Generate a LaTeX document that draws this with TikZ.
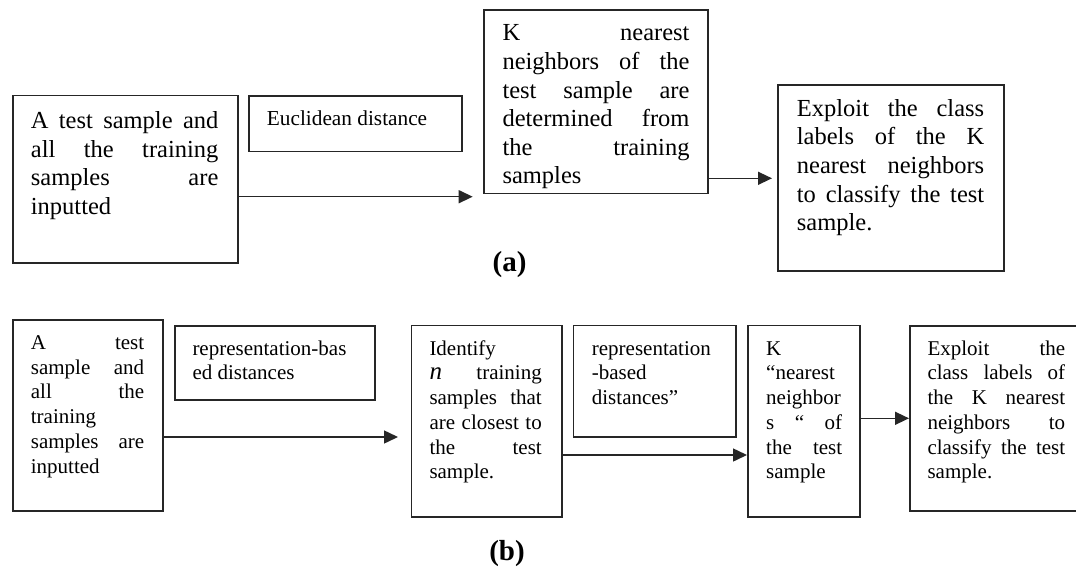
\documentclass[tikz,border=0pt]{standalone}
\usepackage{fontspec}
\setmainfont{Liberation Serif}
\usetikzlibrary{arrows.meta}
\tolerance=10000
\hbadness=10000
\hyphenpenalty=10000
\exhyphenpenalty=10000
\newcommand\st{\noindent\strut}
\tikzset{
  bx/.style={draw=black!85, line width=1.5pt, inner sep=0pt, anchor=north west, rectangle},
  tx/.style={inner sep=0pt, anchor=north west, align=justify},
  big/.style={font=\fontsize{24.5}{28.6}\selectfont},
  sml/.style={font=\fontsize{21}{24.7}\selectfont},
  arr/.style={line width=1.5pt, draw=black!85, -{Triangle[length=14pt,width=13pt]}},
  lab/.style={font=\fontsize{29}{33}\selectfont\bfseries, anchor=base, inner sep=0pt},
}
\begin{document}
\begin{tikzpicture}[x=1pt, y=-1pt]
\useasboundingbox (0,0) rectangle (1076,570);
% ---------- (a) ----------
\node[bx, minimum width=225pt, minimum height=167.3pt] (a1) at (12,94.7) {};
\node[tx, big, text width=187.5pt] (a1t) at (30.7,108.3)
  {\st A test sample and\linebreak all the training\linebreak samples are\linebreak inputted};
\node[bx, minimum width=212.7pt, minimum height=55.7pt] (eu) at (248.3,95) {};
\node[inner sep=0pt, anchor=base west, font=\fontsize{21.3}{25}\selectfont] (eut) at (266.7,125) {Euclidean distance};
\node[bx, minimum width=224pt, minimum height=183.4pt] (k1) at (483.3,9.3) {};
\node[tx, big, text width=187pt] (k1t) at (502.3,20.7)
  {\st K nearest\linebreak neighbors of the\linebreak test sample are\linebreak determined from\linebreak the training\linebreak samples};
\node[bx, minimum width=226pt, minimum height=186pt] (ex1) at (777.3,84) {};
\node[tx, big, text width=187.3pt] (ex1t) at (796.7,96)
  {\st Exploit the class\linebreak labels of the K\linebreak nearest neighbors\linebreak to classify the test\linebreak sample.};
\coordinate (e1) at (472.7,196.7);
\draw[arr] (a1.east |- e1) -- (e1);
\coordinate (e2) at (772,178.3);
\draw[arr] (k1.east |- e2) -- (e2);
\node[lab] (la) at (509.5,271.5) {(a)};
% ---------- (b) ----------
\node[bx, minimum width=150pt, minimum height=191pt] (b1) at (12,319) {};
\node[tx, sml, text width=113.3pt] (b1t) at (30.7,332.1)
  {\st A test\linebreak sample and\linebreak all the\linebreak training\linebreak samples are\linebreak inputted};
\node[bx, minimum width=200pt, minimum height=74pt] (r1) at (174,325) {};
\node[inner sep=0pt, anchor=north west, sml, align=left] (r1t) at (192.3,337.8)
  {\strut representation-bas\\ed distances};
\node[bx, minimum width=150.3pt, minimum height=191.3pt] (id) at (410.7,324.7) {};
\node[tx, sml, text width=112.3pt] (idt) at (429.3,337.8)
  {\st Identify\linebreak {\fontsize{25}{24.7}\selectfont\itshape n} training\linebreak samples that\linebreak are closest to\linebreak the test\linebreak sample.};
\node[bx, minimum width=162.3pt, minimum height=111.3pt] (r2) at (572.7,324.7) {};
\node[inner sep=0pt, anchor=north west, sml, align=left] (r2t) at (591.7,337.8)
  {\strut representation\\-based\\distances”};
\node[bx, minimum width=112.3pt, minimum height=191.3pt] (k2) at (747,324.7) {};
\node[tx, sml, text width=76pt] (k2t) at (766,337.8)
  {\st K\linebreak “nearest\linebreak neighbor\linebreak s “ of\linebreak the test\linebreak sample};
\node[bx, minimum width=180pt, minimum height=185pt] (ex2) at (909,325) {};
\node[tx, sml, text width=137.7pt] (ex2t) at (927.3,337.8)
  {\st Exploit the\linebreak class labels of\linebreak the K nearest\linebreak neighbors to\linebreak classify the test\linebreak sample.};
\coordinate (e3) at (398,437);
\draw[arr] (b1.east |- e3) -- (e3);
\coordinate (y4) at (0,455);
\draw[arr] (id.east |- y4) -- (k2.west |- y4);
\coordinate (y5) at (0,418.3);
\draw[arr] (k2.east |- y5) -- (ex2.west |- y5);
\node[lab] (lb) at (507,560) {(b)};
\end{tikzpicture}
\end{document}
